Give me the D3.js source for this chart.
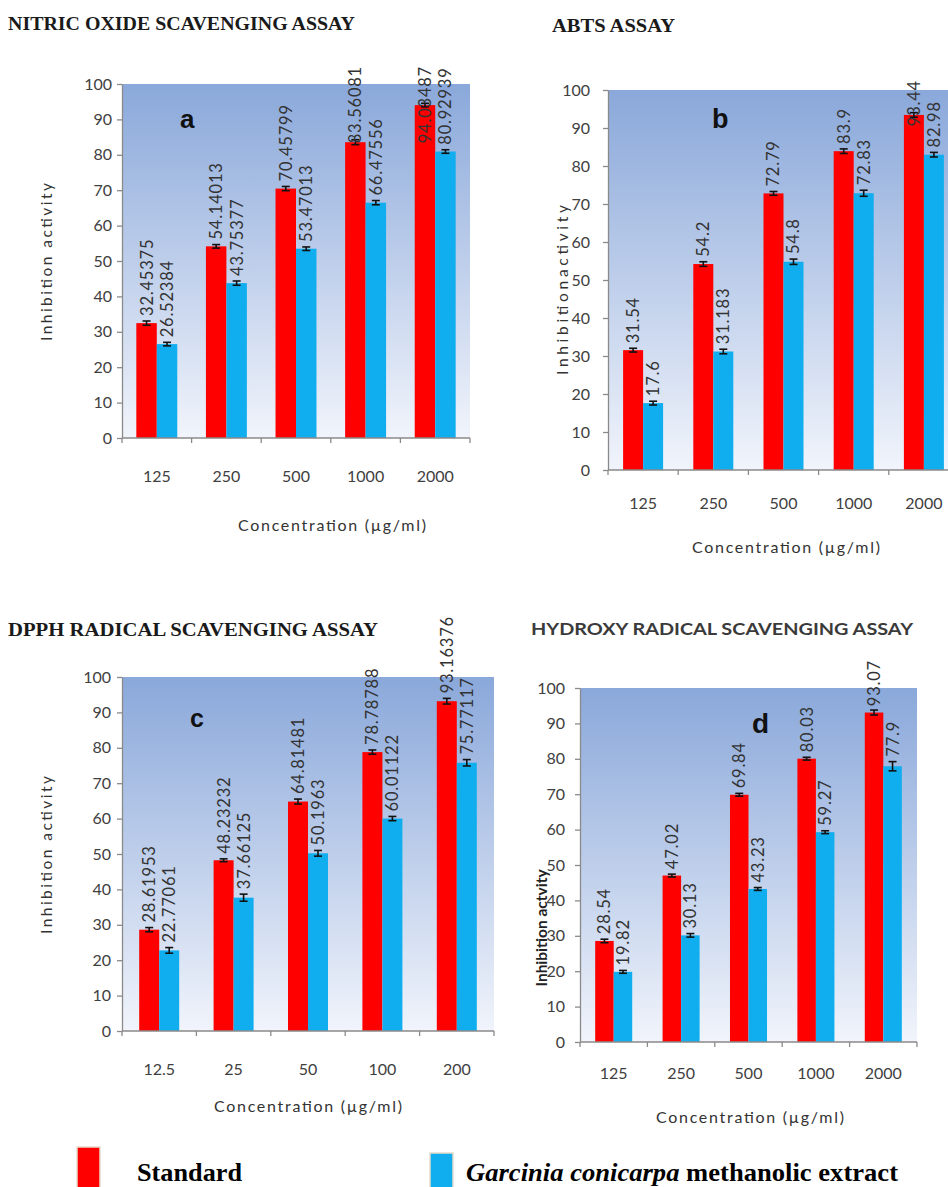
<!DOCTYPE html>
<html>
<head>
<meta charset="utf-8">
<script src="https://cdn.jsdelivr.net/npm/d3@7"></script>
<style>
  html, body { margin: 0; padding: 0; background: #ffffff; }
  svg { display: block; }
</style>
</head>
<body>
<svg id="fig" width="948" height="1187"></svg>
<script>
// ---- data -------------------------------------------------------------
const yTicks = [0, 10, 20, 30, 40, 50, 60, 70, 80, 90, 100];
const concMain = ["125", "250", "500", "1000", "2000"];
const concDpph = ["12.5", "25", "50", "100", "200"];
const seriesNames = ["Standard", "Garcinia conicarpa methanolic extract"];

// Nitric oxide scavenging (% inhibition)
const nitricStandard = [32.45375, 54.14013, 70.45799, 83.56081, 94.03487];
const nitricExtract  = [26.52384, 43.75377, 53.47013, 66.47556, 80.92939];
const nitricStandardErr = [0.6, 0.5, 0.6, 0.7, 0.5];
const nitricExtractErr  = [0.5, 0.6, 0.5, 0.6, 0.5];

// ABTS assay
const abtsStandard = [31.54, 54.2, 72.79, 83.9, 93.44];
const abtsExtract  = [17.6, 31.183, 54.8, 72.83, 82.98];
const abtsStandardErr = [0.5, 0.6, 0.5, 0.6, 0.6];
const abtsExtractErr  = [0.5, 0.6, 0.7, 0.8, 0.6];

// DPPH radical scavenging
const dpphStandard = [28.61953, 48.23232, 64.81481, 78.78788, 93.16376];
const dpphExtract  = [22.77061, 37.66125, 50.1963, 60.01122, 75.77117];
const dpphStandardErr = [0.6, 0.4, 0.7, 0.6, 0.8];
const dpphExtractErr  = [0.8, 1.0, 0.8, 0.6, 0.9];

// Hydroxy radical scavenging
const hydroxyStandard = [28.54, 47.02, 69.84, 80.03, 93.07];
const hydroxyExtract  = [19.82, 30.13, 43.23, 59.27, 77.9];
const hydroxyStandardErr = [0.5, 0.4, 0.4, 0.4, 0.7];
const hydroxyExtractErr  = [0.4, 0.5, 0.4, 0.4, 1.3];

// ---- styling / layout --------------------------------------------------
const SANS = "Lato, 'Open Sans', sans-serif";
const SERIF = "'Liberation Serif', 'Times New Roman', serif";
const BOLD_SANS = "'Liberation Sans', Arial, sans-serif";
const colors = { std: "#ff0000", ext: "#10aeee" };
const axisColor = "#8a8a8a";
const textColor = "#404040";

const panels = [
  {
    letter: "a", title: "NITRIC OXIDE SCAVENGING ASSAY", titleSerif: true,
    titleX: 8, titleY: 30, titleLen: 347,
    cats: concMain, std: nitricStandard, ext: nitricExtract,
    stdErr: nitricStandardErr, extErr: nitricExtractErr,
    left: 122, right: 470, top: 84, bottom: 438, pairPad: 0.70, labelTop: 66,
    tickPad: 5, tickBase: 482, xTitleX: 332, xTitleY: 531,
    yTitle: "Inhibition activity", yTitleX: 47, yTitleY: 262, yTitleLen: 158, yTitleBold: false,
    letterX: 180, letterY: 128, letterSize: 26
  },
  {
    letter: "b", title: "ABTS ASSAY", titleSerif: true,
    titleX: 552, titleY: 32, titleLen: 123,
    cats: concMain, std: abtsStandard, ext: abtsExtract,
    stdErr: abtsStandardErr, extErr: abtsExtractErr,
    left: 608, right: 959, top: 90, bottom: 470, pairPad: 0.755, labelTop: 80,
    tickPad: 13, tickBase: 509, xTitleX: 786, xTitleY: 553,
    yTitle: "Inhibitionactivity", yTitleX: 563, yTitleY: 290, yTitleLen: 170, yTitleBold: false,
    letterX: 712, letterY: 128, letterSize: 27
  },
  {
    letter: "c", title: "DPPH RADICAL SCAVENGING ASSAY", titleSerif: true,
    titleX: 8, titleY: 636, titleLen: 370,
    cats: concDpph, std: dpphStandard, ext: dpphExtract,
    stdErr: dpphStandardErr, extErr: dpphExtractErr,
    left: 122, right: 494, top: 677, bottom: 1031, pairPad: 0.86, labelTop: 612,
    tickPad: 6, tickBase: 1075, xTitleX: 308, xTitleY: 1112,
    yTitle: "Inhibition activity", yTitleX: 47, yTitleY: 855, yTitleLen: 158, yTitleBold: false,
    letterX: 190, letterY: 727, letterSize: 25
  },
  {
    letter: "d", title: "HYDROXY RADICAL SCAVENGING ASSAY", titleSerif: false,
    titleX: 531, titleY: 635, titleLen: 382,
    cats: concMain, std: hydroxyStandard, ext: hydroxyExtract,
    stdErr: hydroxyStandardErr, extErr: hydroxyExtractErr,
    left: 580, right: 917, top: 688, bottom: 1042, pairPad: 0.82, labelTop: 660,
    tickPad: 10, tickBase: 1079, xTitleX: 750, xTitleY: 1123,
    yTitle: "Inhibition actvity", yTitleX: 542, yTitleY: 928, yTitleLen: null, yTitleBold: true,
    letterX: 752, letterY: 733, letterSize: 28
  }
];

const svg = d3.select("#fig");
const defs = svg.append("defs");

// plot-area fill: blue at the top fading to near white at the baseline
const grad = defs.append("linearGradient")
  .attr("id", "plotFill").attr("x1", 0).attr("y1", 0).attr("x2", 0).attr("y2", 1);
grad.append("stop").attr("offset", "0%").attr("stop-color", "#8aa8da");
grad.append("stop").attr("offset", "100%").attr("stop-color", "#f1f4fb");

function drawPanel(p) {
  const g = svg.append("g").attr("class", "panel-" + p.letter);

  const x = d3.scaleBand().domain(p.cats).range([p.left, p.right]).paddingInner(0).paddingOuter(0);
  const xs = d3.scaleBand().domain(["std", "ext"]).range([0, x.bandwidth()])
    .paddingInner(0).paddingOuter(p.pairPad);
  const y = d3.scaleLinear().domain([0, 100]).range([p.bottom, p.top]);

  const rows = [];
  p.cats.forEach((c, i) => {
    rows.push({ cat: c, key: "std", value: p.std[i], err: p.stdErr[i] });
    rows.push({ cat: c, key: "ext", value: p.ext[i], err: p.extErr[i] });
  });

  // plot background
  g.append("rect")
    .attr("x", p.left).attr("y", p.top)
    .attr("width", p.right - p.left).attr("height", p.bottom - p.top)
    .attr("fill", "url(#plotFill)");

  // bars
  g.append("g").selectAll("rect").data(rows).join("rect")
    .attr("x", d => x(d.cat) + xs(d.key))
    .attr("y", d => y(d.value))
    .attr("width", xs.bandwidth())
    .attr("height", d => y(0) - y(d.value))
    .attr("fill", d => colors[d.key]);

  // error bars
  const eb = g.append("g").attr("stroke", "#111").attr("stroke-width", 1.6);
  rows.forEach(d => {
    const cx = x(d.cat) + xs(d.key) + xs.bandwidth() / 2;
    const y1 = y(d.value + d.err), y2 = y(d.value - d.err);
    eb.append("line").attr("x1", cx).attr("x2", cx).attr("y1", y1).attr("y2", y2);
    eb.append("line").attr("x1", cx - 4).attr("x2", cx + 4).attr("y1", y1).attr("y2", y1);
    eb.append("line").attr("x1", cx - 4).attr("x2", cx + 4).attr("y1", y2).attr("y2", y2);
  });

  // y axis
  const yAxis = g.append("g")
    .attr("transform", `translate(${p.left},0)`)
    .call(d3.axisLeft(y).tickValues(yTicks).tickSize(5).tickSizeOuter(0).tickPadding(p.tickPad));
  yAxis.select(".domain").attr("stroke", axisColor).attr("stroke-width", 1.3);
  yAxis.selectAll(".tick line").attr("stroke", axisColor).attr("stroke-width", 1.3);
  yAxis.selectAll(".tick text")
    .attr("font-family", SANS).attr("font-size", 16).attr("fill", textColor);

  // x axis: labels from the band scale, ticks on category boundaries
  const xAxis = g.append("g")
    .attr("transform", `translate(0,${p.bottom})`)
    .call(d3.axisBottom(x).tickSize(0).tickSizeOuter(0));
  xAxis.select(".domain").remove();
  xAxis.selectAll(".tick text")
    .attr("y", p.tickBase - p.bottom).attr("dy", null)
    .attr("font-family", SANS).attr("font-size", 16).attr("fill", textColor);
  g.append("line")
    .attr("x1", p.left).attr("x2", p.right).attr("y1", p.bottom).attr("y2", p.bottom)
    .attr("stroke", axisColor).attr("stroke-width", 1.3);
  const bounds = p.cats.map(c => x(c)).concat([p.right]);
  g.append("g").selectAll("line").data(bounds).join("line")
    .attr("x1", d => d).attr("x2", d => d)
    .attr("y1", p.bottom).attr("y2", p.bottom + 5)
    .attr("stroke", axisColor).attr("stroke-width", 1.3);

  // value labels, rotated, above each bar (kept inside the chart area)
  const clipId = "clip-" + p.letter;
  defs.append("clipPath").attr("id", clipId).append("rect")
    .attr("x", p.left - 30).attr("y", p.labelTop - 2)
    .attr("width", p.right - p.left + 60).attr("height", p.bottom - p.labelTop + 2);
  const lbl = g.append("g").attr("clip-path", `url(#${clipId})`);
  rows.forEach(d => {
    const cx = x(d.cat) + xs(d.key) + xs.bandwidth() / 2;
    const t = lbl.append("text")
      .attr("font-family", SANS).attr("font-size", 16.5).attr("letter-spacing", 0.8)
      .attr("fill", "#333").attr("dy", "0.36em")
      .text(String(d.value));
    const len = t.node().getComputedTextLength();
    let anchorY = y(d.value + d.err) - 5;
    // a label that would run past the chart top slides down over its bar
    anchorY = Math.max(anchorY, p.labelTop + len);
    t.attr("transform", `translate(${cx},${anchorY}) rotate(-90)`);
  });

  // panel letter
  g.append("text")
    .attr("x", p.letterX).attr("y", p.letterY)
    .attr("font-family", BOLD_SANS).attr("font-weight", "bold")
    .attr("font-size", p.letterSize).attr("fill", "#111")
    .text(p.letter);

  // x title
  g.append("text")
    .attr("x", p.xTitleX).attr("y", p.xTitleY).attr("text-anchor", "middle")
    .attr("font-family", SANS).attr("font-size", 16).attr("fill", "#333")
    .attr("textLength", 188).attr("lengthAdjust", "spacing")
    .text("Concentration (µg/ml)");

  // y title
  const yt = g.append("text")
    .attr("transform", `translate(${p.yTitleX},${p.yTitleY}) rotate(-90)`)
    .attr("text-anchor", "middle").attr("dy", "0.35em")
    .attr("font-family", SANS).attr("font-size", 15.5)
    .attr("font-weight", p.yTitleBold ? "bold" : "normal")
    .attr("fill", p.yTitleBold ? "#222" : "#333")
    .text(p.yTitle);
  if (p.yTitleLen) yt.attr("textLength", p.yTitleLen).attr("lengthAdjust", "spacing");

  // panel title
  g.append("text")
    .attr("x", p.titleX).attr("y", p.titleY)
    .attr("font-family", p.titleSerif ? SERIF : SANS)
    .attr("font-weight", "bold")
    .attr("font-size", p.titleSerif ? 18 : 17)
    .attr("fill", p.titleSerif ? "#1a1a1a" : "#3a3a3a")
    .attr("textLength", p.titleLen).attr("lengthAdjust", "spacingAndGlyphs")
    .text(p.title);
}

panels.forEach(drawPanel);

// ---- shared legend ----------------------------------------------------
const legend = svg.append("g").attr("class", "legend");
const legendItems = [
  { key: "std", name: seriesNames[0], rx: 77, ry: 1147, tx: 137, len: 105 },
  { key: "ext", name: seriesNames[1], rx: 430, ry: 1153, tx: 466, len: 432 }
];
legendItems.forEach(it => {
  legend.append("rect")
    .attr("x", it.rx).attr("y", it.ry).attr("width", 23).attr("height", 1187 - it.ry + 2)
    .attr("fill", colors[it.key]).attr("stroke", "#e6dccb").attr("stroke-width", 1.5);
  const t = legend.append("text")
    .attr("x", it.tx).attr("y", 1181)
    .attr("font-family", SERIF).attr("font-weight", "bold").attr("font-size", 25)
    .attr("fill", "#000")
    .attr("textLength", it.len).attr("lengthAdjust", "spacingAndGlyphs");
  if (it.key === "ext") {
    const words = it.name.split(" ");
    t.append("tspan").attr("font-style", "italic").text(words.slice(0, 2).join(" "));
    t.append("tspan").text(" " + words.slice(2).join(" "));
  } else {
    t.text(it.name);
  }
});
</script>
</body>
</html>
